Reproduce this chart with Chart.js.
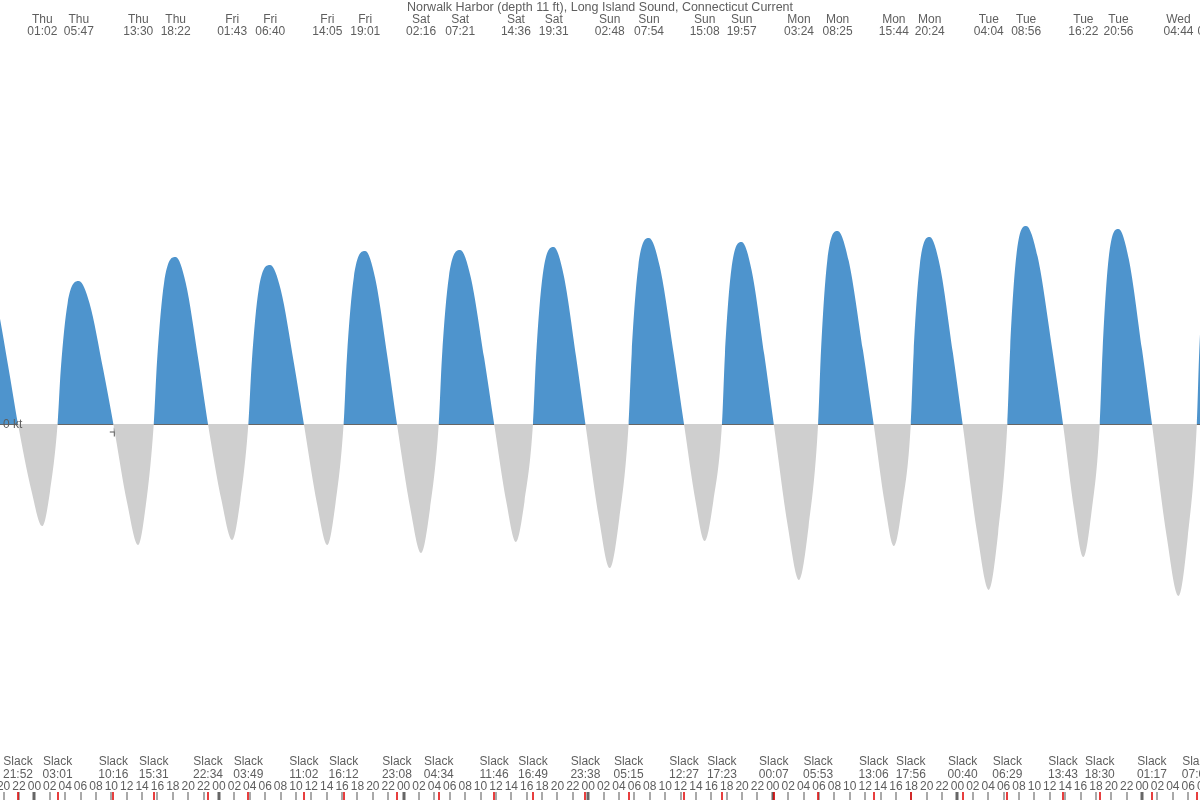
<!DOCTYPE html>
<html>
<head>
<meta charset="utf-8">
<title>Norwalk Harbor current</title>
<script src="https://cdn.jsdelivr.net/npm/chart.js@4.4.1/dist/chart.umd.min.js"></script>
<style>
  html, body { margin: 0; padding: 0; background: #fff; overflow: hidden; }
  #wrap { width: 1200px; height: 800px; }
</style>
</head>
<body>
<div id="wrap"><canvas id="chart" width="1200" height="800"></canvas></div>
<script>
const TITLE = 'Norwalk Harbor (depth 11 ft), Long Island Sound, Connecticut Current';

// Hours are counted from Thu 00:00; the first Wed is the day before.
const DAYS = ['Wed', 'Thu', 'Fri', 'Sat', 'Sun', 'Mon', 'Tue', 'Wed'];

const slackDays = ['Wed', 'Thu', 'Thu', 'Thu', 'Thu', 'Fri', 'Fri', 'Fri', 'Fri', 'Sat', 'Sat', 'Sat', 'Sat',
  'Sun', 'Sun', 'Sun', 'Mon', 'Mon', 'Mon', 'Mon', 'Tue', 'Tue', 'Tue', 'Tue', 'Wed', 'Wed'];
const slackTimes = ['21:52', '03:01', '10:16', '15:31', '22:34', '03:49', '11:02', '16:12', '23:08', '04:34', '11:46', '16:49', '23:38',
  '05:15', '12:27', '17:23', '00:07', '05:53', '13:06', '17:56', '00:40', '06:29', '13:43', '18:30', '01:17', '07:07'];

// max flood (+) and max ebb (-), knots
const peakDays = ['Wed', 'Thu', 'Thu', 'Thu', 'Thu', 'Fri', 'Fri', 'Fri', 'Fri', 'Sat', 'Sat', 'Sat', 'Sat', 'Sun',
  'Sun', 'Sun', 'Sun', 'Mon', 'Mon', 'Mon', 'Mon', 'Tue', 'Tue', 'Tue', 'Tue', 'Wed', 'Wed'];
const peakTimes = ['17:30', '01:02', '05:47', '13:30', '18:22', '01:43', '06:40', '14:05', '19:01', '02:16', '07:21', '14:36', '19:31', '02:48',
  '07:54', '15:08', '19:57', '03:24', '08:25', '15:44', '20:24', '04:04', '08:56', '16:22', '20:56', '04:44', '09:10'];
const peakKnots = [0.77, -0.51, 0.715, -0.605, 0.835, -0.58, 0.795, -0.605, 0.865, -0.645, 0.87, -0.59, 0.885, -0.72,
  0.93, -0.585, 0.91, -0.78, 0.965, -0.61, 0.935, -0.83, 0.99, -0.665, 0.975, -0.86, 0.95];

// points on the flanks between slack and max
const flankHours = [-5.15, -3.42, -0.36, 2.03, 3.43, 4.32, 7.17, 8.95, 12.08, 14.51, 15.95, 16.86, 19.67, 21.33,
  24.33, 26.77, 28.25, 29.16, 32.02, 33.75, 36.74, 39.14, 40.62, 41.52, 44.29, 45.92, 48.89, 51.42,
  52.98, 53.88, 56.72, 58.47, 61.35, 63.71, 65.22, 66.09, 68.79, 70.42, 73.41, 76.03, 77.65, 78.5, 81.31, 83.11,
  85.95, 88.26, 89.77, 90.59, 93.24, 94.89, 97.96, 100.64, 102.26, 103.07, 105.87, 107.72, 110.57, 112.83,
  114.3, 115.09, 117.72, 119.41, 122.57, 125.28, 126.85, 127.64, 130.42, 132.31, 135.2, 137.43,
  138.87, 139.64, 142.28, 144.0, 147.22, 149.93, 151.43, 152.08];
const flankKnots = [0.65, 0.293, -0.337, -0.337, 0.272, 0.604, 0.604, 0.272, -0.399, -0.399, 0.317, 0.706, 0.706, 0.317,
  -0.383, -0.383, 0.302, 0.672, 0.672, 0.302, -0.399, -0.399, 0.329, 0.731, 0.731, 0.329, -0.426, -0.426,
  0.331, 0.735, 0.735, 0.331, -0.389, -0.389, 0.336, 0.748, 0.748, 0.336, -0.475, -0.475, 0.353, 0.786, 0.786, 0.353,
  -0.386, -0.386, 0.346, 0.769, 0.769, 0.346, -0.515, -0.515, 0.367, 0.815, 0.815, 0.367, -0.403, -0.403,
  0.355, 0.79, 0.79, 0.355, -0.548, -0.548, 0.376, 0.837, 0.837, 0.376, -0.439, -0.439,
  0.371, 0.824, 0.824, 0.371, -0.568, -0.568, 0.361, 0.803];

const nowHour = 10.39;
const nowKnots = -0.04;

const VIEW_START = -4.47;
const VIEW_END = 151.53;
const HOUR_STEP = 2;

const FONT = "12px 'Liberation Sans', Arial, sans-serif";
const TITLE_FONT = "12.5px 'Liberation Sans', Arial, sans-serif";
const TEXT = '#5e5e5e';
const FLOOD = '#4e94cd';
const EBB = '#cfcfcf';

function toHours(days, times) {
  let d = 0;
  return times.map((tm, i) => {
    while (DAYS[d] !== days[i]) d++;
    const [hh, mm] = tm.split(':').map(Number);
    return (d - 1) * 24 + hh + mm / 60;
  });
}

const slackHours = toHours(slackDays, slackTimes);
const peakHours = toHours(peakDays, peakTimes);

const curve = [
  ...slackHours.map((x) => ({ x, y: 0 })),
  ...peakHours.map((x, i) => ({ x, y: peakKnots[i] })),
  ...flankHours.map((x, i) => ({ x, y: flankKnots[i] })),
].sort((a, b) => a.x - b.x);

const pad2 = (n) => String(n).padStart(2, '0');

const tideLabels = {
  id: 'tideLabels',
  afterDatasetsDraw(chart) {
    const { ctx } = chart;
    const xs = chart.scales.x;
    const ys = chart.scales.y;
    const y0 = Math.round(ys.getPixelForValue(0)) + 0.5;

    ctx.save();
    // zero line under each flood only
    ctx.strokeStyle = '#666';
    ctx.lineWidth = 1;
    peakHours.forEach((h, i) => {
      if (peakKnots[i] <= 0) return;
      const before = slackHours.filter((s) => s < h);
      const after = slackHours.filter((s) => s > h);
      const a = before.length ? xs.getPixelForValue(before[before.length - 1]) : chart.chartArea.left;
      const b = after.length ? xs.getPixelForValue(after[0]) : chart.chartArea.right;
      ctx.beginPath();
      ctx.moveTo(a, y0);
      ctx.lineTo(b, y0);
      ctx.stroke();
    });

    ctx.fillStyle = TEXT;
    ctx.textBaseline = 'middle';

    ctx.font = TITLE_FONT;
    ctx.textAlign = 'center';
    ctx.fillText(TITLE, 600, 7.5);

    ctx.font = FONT;
    ctx.textAlign = 'left';
    ctx.fillText('0 kt', 3, y0);

    ctx.textAlign = 'center';
    peakHours.forEach((h, i) => {
      const x = xs.getPixelForValue(h);
      ctx.fillText(peakDays[i], x, 19.5);
      ctx.fillText(peakTimes[i], x, 32);
    });

    slackHours.forEach((h, i) => {
      const x = xs.getPixelForValue(h);
      ctx.fillText('Slack', x, 762);
      ctx.fillText(slackTimes[i], x, 774.5);
    });

    // hour labels and ticks
    for (let h = Math.ceil(VIEW_START / HOUR_STEP) * HOUR_STEP; h <= VIEW_END + 1; h += HOUR_STEP) {
      const x = xs.getPixelForValue(h);
      const hr = ((h % 24) + 24) % 24;
      ctx.fillStyle = TEXT;
      ctx.fillText(pad2(hr), x, 786.5);
      if (hr === 0) {
        ctx.fillStyle = '#666';
        ctx.fillRect(Math.round(x) - 1.5, 792, 3, 8);
      } else {
        ctx.fillStyle = '#555';
        ctx.fillRect(Math.round(x) - 0.5, 792, 1, 8);
      }
    }
    ctx.fillStyle = '#e00000';
    slackHours.forEach((h) => {
      const x = xs.getPixelForValue(h);
      ctx.fillRect(Math.round(x) - 0.75, 792, 1.5, 8);
    });
    ctx.restore();
  },
};

new Chart(document.getElementById('chart'), {
  type: 'line',
  data: {
    datasets: [
      {
        label: 'Current',
        data: curve,
        borderColor: 'rgba(0,0,0,0)',
        borderWidth: 0,
        pointRadius: 0,
        cubicInterpolationMode: 'monotone',
        fill: { target: 'origin', above: FLOOD, below: EBB },
      },
      {
        label: 'Now',
        data: [{ x: nowHour, y: nowKnots }],
        showLine: false,
        pointStyle: 'cross',
        pointRadius: 4.5,
        borderColor: '#555',
        borderWidth: 1,
      },
    ],
  },
  options: {
    responsive: false,
    animation: false,
    layout: { padding: 0, autoPadding: false },
    plugins: { legend: { display: false }, tooltip: { enabled: false }, title: { display: false } },
    scales: {
      x: { type: 'linear', min: VIEW_START, max: VIEW_END, display: false },
      y: { type: 'linear', min: -1.88, max: 2.12, display: false },
    },
  },
  plugins: [tideLabels],
});
</script>
</body>
</html>
